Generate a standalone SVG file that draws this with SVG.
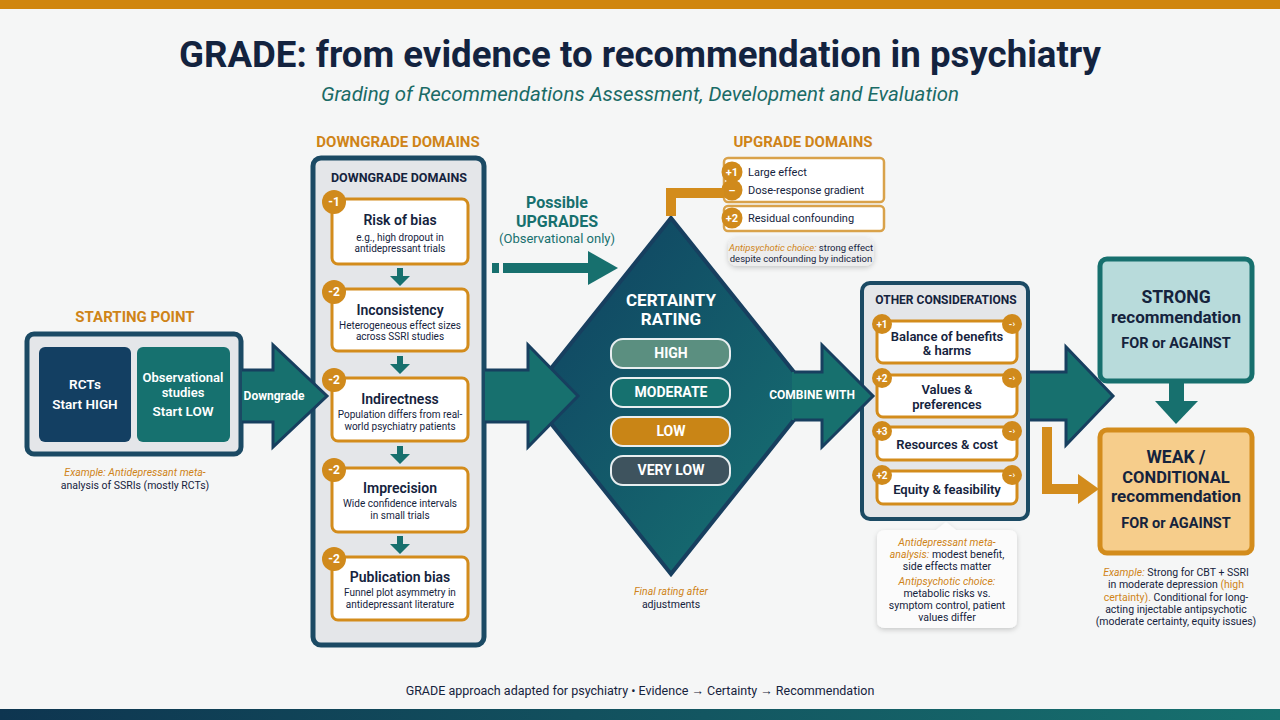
<svg xmlns="http://www.w3.org/2000/svg" width="1280" height="720" viewBox="0 0 1280 720">
<defs>
<linearGradient id="bar" x1="0" x2="1" y1="0" y2="0"><stop offset="0" stop-color="#0e3550"/><stop offset="1" stop-color="#17716f"/></linearGradient>
<linearGradient id="dia" x1="0" y1="0" x2="1" y2="1"><stop offset="0" stop-color="#0f3f60"/><stop offset="1" stop-color="#177473"/></linearGradient>
<filter id="sh" x="-20%" y="-20%" width="140%" height="150%"><feDropShadow dx="0" dy="2" stdDeviation="2.5" flood-color="#000" flood-opacity="0.18"/></filter>
</defs>
<style>
text{font-family:Roboto,"Liberation Sans",Arial,sans-serif;text-anchor:middle;dominant-baseline:central;fill:#15233d}
.bl{dominant-baseline:auto}
.st{text-anchor:start}
.or{fill:#cf8418}
.w{fill:#ffffff}
.b{font-weight:700}
.sb{font-weight:600}
.i{font-style:italic}
.panel{fill:#e4e6e9;stroke:#1b4a64;stroke-width:5}
.card{fill:#ffffff;stroke:#d38c1c;stroke-width:3}
.badge{fill:#d08a1c}
.bt{fill:#ffffff;font-weight:700;font-size:12px}
.afill{fill:#17706e}
.aline{fill:none;stroke:#173f5f;stroke-width:3;stroke-linejoin:miter}
.sub{font-size:10px}
.pill{stroke:#e8eef0;stroke-width:2}
</style>
<rect x="0" y="0" width="1280" height="720" fill="#f5f6f6"/>
<rect x="0" y="0" width="1280" height="9" fill="#d0860f"/>
<rect x="0" y="709" width="1280" height="11" fill="url(#bar)"/>

<g id="title">
<text class="bl b" x="640" y="67" font-size="36" textLength="922" lengthAdjust="spacingAndGlyphs" style="fill:#13233f">GRADE: from evidence to recommendation in psychiatry</text>
<text class="bl i" x="640" y="101" font-size="20" textLength="638" lengthAdjust="spacingAndGlyphs" style="fill:#1a6b66">Grading of Recommendations Assessment, Development and Evaluation</text>
</g>

<g id="start">
<text class="or b" x="135" y="317" font-size="15">STARTING POINT</text>
<rect x="27" y="334" width="214" height="120" rx="7" class="panel"/>
<rect x="39" y="347" width="92" height="95" rx="6" fill="#133f62"/>
<rect x="137" y="347" width="93" height="95" rx="6" fill="#16716f"/>
<text class="w sb" x="85" y="384" font-size="13.5">RCTs</text>
<text class="w sb" x="85" y="404" font-size="13.5">Start HIGH</text>
<text class="w sb" x="183" y="377" font-size="13">Observational</text>
<text class="w sb" x="183" y="392" font-size="13">studies</text>
<text class="w sb" x="183" y="411" font-size="13.5">Start LOW</text>
<text x="135" y="472" font-size="10.5" class="or i">Example: Antidepressant meta-</text>
<text x="135" y="485" font-size="10.5">analysis of SSRIs (mostly RCTs)</text>
</g>

<g id="downgrade">
<text class="or b" x="398" y="142" font-size="15">DOWNGRADE DOMAINS</text>
<rect x="313" y="158" width="171" height="487" rx="8" class="panel"/>
<text class="b" x="399" y="177" font-size="12.5">DOWNGRADE DOMAINS</text>
<g id="d1">
<rect x="332" y="199" width="136" height="65" rx="6" class="card"/>
<circle cx="334" cy="202" r="12" class="badge"/><text class="bt" x="334" y="202">-1</text>
<text class="sb" x="400" y="220" font-size="14">Risk of bias</text>
<text class="sub" x="400" y="237">e.g., high dropout in</text>
<text class="sub" x="400" y="248">antidepressant trials</text>
</g>
<g id="d2">
<rect x="332" y="289" width="136" height="62" rx="6" class="card"/>
<circle cx="334" cy="292" r="12" class="badge"/><text class="bt" x="334" y="292">-2</text>
<text class="sb" x="400" y="310" font-size="14">Inconsistency</text>
<text class="sub" x="400" y="325">Heterogeneous effect sizes</text>
<text class="sub" x="400" y="336">across SSRI studies</text>
</g>
<g id="d3">
<rect x="332" y="378" width="136" height="63" rx="6" class="card"/>
<circle cx="334" cy="380" r="12" class="badge"/><text class="bt" x="334" y="380">-2</text>
<text class="sb" x="400" y="399" font-size="14">Indirectness</text>
<text class="sub" x="400" y="414">Population differs from real-</text>
<text class="sub" x="400" y="426">world psychiatry patients</text>
</g>
<g id="d4">
<rect x="332" y="468" width="136" height="64" rx="6" class="card"/>
<circle cx="334" cy="470" r="12" class="badge"/><text class="bt" x="334" y="470">-2</text>
<text class="sb" x="400" y="488" font-size="14">Imprecision</text>
<text class="sub" x="400" y="503">Wide confidence intervals</text>
<text class="sub" x="400" y="515">in small trials</text>
</g>
<g id="d5">
<rect x="332" y="557" width="136" height="63" rx="6" class="card"/>
<circle cx="334" cy="559" r="12" class="badge"/><text class="bt" x="334" y="559">-2</text>
<text class="sb" x="400" y="577" font-size="14">Publication bias</text>
<text class="sub" x="400" y="592">Funnel plot asymmetry in</text>
<text class="sub" x="400" y="604">antidepressant literature</text>
</g>
</g>

<g id="possible-upgrades">
<text class="b" x="557" y="202" font-size="16" style="fill:#17706e">Possible</text>
<text class="b" x="557" y="221" font-size="16" style="fill:#17706e">UPGRADES</text>
<text x="557" y="238" font-size="13" style="fill:#17706e">(Observational only)</text>
</g>

<g id="upgrade">
<text class="or b" x="803" y="142" font-size="15">UPGRADE DOMAINS</text>
<rect x="724" y="158" width="160" height="44" rx="4" fill="#ffffff" stroke="#d9a24a" stroke-width="2.5"/>
<rect x="724" y="206" width="160" height="25" rx="4" fill="#ffffff" stroke="#d9a24a" stroke-width="2.5"/>
<circle cx="732" cy="172" r="10.5" class="badge"/><text class="bt" x="732" y="172" font-size="11" style="font-size:11px">+1</text>
<circle cx="732" cy="190" r="10.5" class="badge"/><text class="bt" x="732" y="190" style="font-size:11px">–</text>
<circle cx="732" cy="218" r="10.5" class="badge"/><text class="bt" x="732" y="218" style="font-size:11px">+2</text>
<text class="st" x="748" y="172" font-size="11">Large effect</text>
<text class="st" x="748" y="190" font-size="11">Dose-response gradient</text>
<text class="st" x="748" y="218" font-size="11">Residual confounding</text>
<rect x="728" y="237" width="146" height="29" rx="9" fill="#ededed" filter="url(#sh)"/>
<text x="801" y="247" font-size="9.5"><tspan class="or i">Antipsychotic choice:</tspan> strong effect</text>
<text x="801" y="258" font-size="9.5">despite confounding by indication</text>
</g>

<g id="certainty">
<path d="M671 218 L813 396 L671 574 L529 396 Z" fill="url(#dia)" stroke="#173f5f" stroke-width="4" stroke-linejoin="miter"/>
<text class="w b" x="671" y="300" font-size="17">CERTAINTY</text>
<text class="w b" x="671" y="319" font-size="17">RATING</text>
<rect x="611" y="339" width="119" height="29" rx="12" class="pill" fill="#5b8f80"/>
<text class="w b" x="671" y="353" font-size="14">HIGH</text>
<rect x="611" y="378" width="119" height="29" rx="12" class="pill" fill="#16716f"/>
<text class="w b" x="671" y="392" font-size="14">MODERATE</text>
<rect x="611" y="417" width="119" height="29" rx="12" class="pill" fill="#c98516"/>
<text class="w b" x="671" y="431" font-size="14">LOW</text>
<rect x="611" y="456" width="119" height="29" rx="12" class="pill" fill="#3e535e"/>
<text class="w b" x="671" y="470" font-size="14">VERY LOW</text>
<text class="or i" x="671" y="591" font-size="10.5">Final rating after</text>
<text x="671" y="604" font-size="10.5">adjustments</text>
</g>

<g id="other">
<rect x="862" y="283" width="166" height="236" rx="8" class="panel" style="stroke-width:4"/>
<text class="b" x="946" y="300" font-size="12">OTHER CONSIDERATIONS</text>
<rect x="877" y="321" width="140" height="42" rx="6" class="card"/>
<rect x="877" y="375" width="140" height="42" rx="6" class="card"/>
<rect x="877" y="427" width="140" height="33" rx="6" class="card"/>
<rect x="877" y="471" width="140" height="33" rx="6" class="card"/>
<circle cx="882" cy="324" r="10" class="badge"/><text class="bt" x="882" y="324" style="font-size:10px">+1</text>
<circle cx="882" cy="378" r="10" class="badge"/><text class="bt" x="882" y="378" style="font-size:10px">+2</text>
<circle cx="882" cy="431" r="10" class="badge"/><text class="bt" x="882" y="431" style="font-size:10px">+3</text>
<circle cx="882" cy="475" r="10" class="badge"/><text class="bt" x="882" y="475" style="font-size:10px">+2</text>
<circle cx="1012" cy="324" r="10" class="badge"/><text class="bt" x="1012" y="324" style="font-size:9px">-›</text>
<circle cx="1012" cy="378" r="10" class="badge"/><text class="bt" x="1012" y="378" style="font-size:9px">-›</text>
<circle cx="1012" cy="431" r="10" class="badge"/><text class="bt" x="1012" y="431" style="font-size:9px">-›</text>
<circle cx="1012" cy="475" r="10" class="badge"/><text class="bt" x="1012" y="475" style="font-size:9px">-›</text>
<text class="sb" x="947" y="336" font-size="13">Balance of benefits</text>
<text class="sb" x="947" y="350" font-size="13">&amp; harms</text>
<text class="sb" x="947" y="389" font-size="13">Values &amp;</text>
<text class="sb" x="947" y="404" font-size="13">preferences</text>
<text class="sb" x="947" y="444" font-size="13">Resources &amp; cost</text>
<text class="sb" x="947" y="489" font-size="13">Equity &amp; feasibility</text>
<path d="M885 530 H936 L946 522 L956 530 H1009 Q1017 530 1017 538 V620 Q1017 628 1009 628 H885 Q877 628 877 620 V538 Q877 530 885 530 Z" fill="#fbfbfb" filter="url(#sh)"/>
<text class="or i" x="947" y="542" font-size="10.5">Antidepressant meta-</text>
<text x="947" y="554" font-size="10.5"><tspan class="or i">analysis:</tspan> modest benefit,</text>
<text x="947" y="566" font-size="10.5">side effects matter</text>
<text class="or i" x="947" y="581" font-size="10.5">Antipsychotic choice:</text>
<text x="947" y="593" font-size="10.5">metabolic risks vs.</text>
<text x="947" y="605" font-size="10.5">symptom control, patient</text>
<text x="947" y="617" font-size="10.5">values differ</text>
</g>

<g id="strong">
<rect x="1100" y="259" width="152" height="122" rx="7" fill="#b8dbdb" stroke="#17706e" stroke-width="5"/>
<text class="b" x="1176" y="297" font-size="17.5">STRONG</text>
<text class="b" x="1176" y="317" font-size="17">recommendation</text>
<text class="b" x="1176" y="343" font-size="14.5">FOR or AGAINST</text>
</g>

<g id="weak">
<rect x="1100" y="430" width="152" height="123" rx="7" fill="#f6cd8b" stroke="#d38c1c" stroke-width="5"/>
<text class="b" x="1176" y="457" font-size="17.5">WEAK /</text>
<text class="b" x="1176" y="477" font-size="16.5">CONDITIONAL</text>
<text class="b" x="1176" y="496" font-size="17">recommendation</text>
<text class="b" x="1176" y="523" font-size="14.5">FOR or AGAINST</text>
<text x="1176" y="572" font-size="10.5"><tspan class="or i">Example:</tspan> Strong for CBT + SSRI</text>
<text x="1176" y="584" font-size="10.5">in moderate depression <tspan class="or">(high</tspan></text>
<text x="1176" y="597" font-size="10.5"><tspan class="or">certainty).</tspan> Conditional for long-</text>
<text x="1176" y="609" font-size="10.5">acting injectable antipsychotic</text>
<text x="1176" y="621" font-size="10.5">(moderate certainty, equity issues)</text>
</g>

<g id="connectors">
<!-- start -> downgrade -->
<path class="afill" d="M242 370 H273 V345 L327 396 L273 447 V422 H242 Z"/>
<path class="aline" d="M242 370 H273 V345 L327 396 L273 447 V422 H242"/>
<text class="w b" x="274" y="396" font-size="12">Downgrade</text>
<!-- downgrade small arrows -->
<path class="afill" d="M397 268 h6 v8 h7 l-10 10 l-10 -10 h7 z"/>
<path class="afill" d="M397 356 h6 v8 h7 l-10 10 l-10 -10 h7 z"/>
<path class="afill" d="M397 446 h6 v8 h7 l-10 10 l-10 -10 h7 z"/>
<path class="afill" d="M397 536 h6 v8 h7 l-10 10 l-10 -10 h7 z"/>
<!-- downgrade -> certainty -->
<path class="afill" d="M485 370 H528 V345 L578 396 L528 447 V422 H485 Z"/>
<path class="aline" d="M485 370 H528 V345 L578 396 L528 447 V422 H485"/>
<!-- possible upgrades arrow -->
<rect x="492" y="263" width="7" height="10" fill="#17706e"/>
<rect x="503" y="263" width="87" height="10" fill="#17706e"/>
<path d="M588 251 L618 268 L588 285 Z" fill="#17706e"/>
<!-- upgrade link -->
<path d="M671 216 V193 H724" fill="none" stroke="#d38c1c" stroke-width="10" stroke-linejoin="miter"/>
<!-- combine with -->
<path class="afill" d="M792 372 H822 V345 L873 396 L822 447 V420 H792 Z"/>
<path class="aline" d="M794 372 H822 V345 L873 396 L822 447 V420 H794"/>
<text class="w b" x="812" y="395" font-size="12">COMBINE WITH</text>
<!-- other -> strong -->
<path class="afill" d="M1030 372 H1066 V347 L1113 396 L1066 445 V420 H1030 Z"/>
<path class="aline" d="M1030 372 H1066 V347 L1113 396 L1066 445 V420 H1030"/>
<!-- strong -> weak -->
<rect x="1169" y="382" width="15" height="20" fill="#17706e"/>
<path d="M1155 401 H1198 L1176 424 Z" fill="#17706e"/>
<!-- orange to weak -->
<path d="M1047 427 V489 H1080" fill="none" stroke="#d38c1c" stroke-width="10" stroke-linejoin="miter"/>
<path d="M1078 474 L1099 489 L1078 504 Z" fill="#d38c1c"/>
</g>

<g id="footer">
<text x="640" y="690" font-size="12.5">GRADE approach adapted for psychiatry • Evidence → Certainty → Recommendation</text>
</g>
</svg>
